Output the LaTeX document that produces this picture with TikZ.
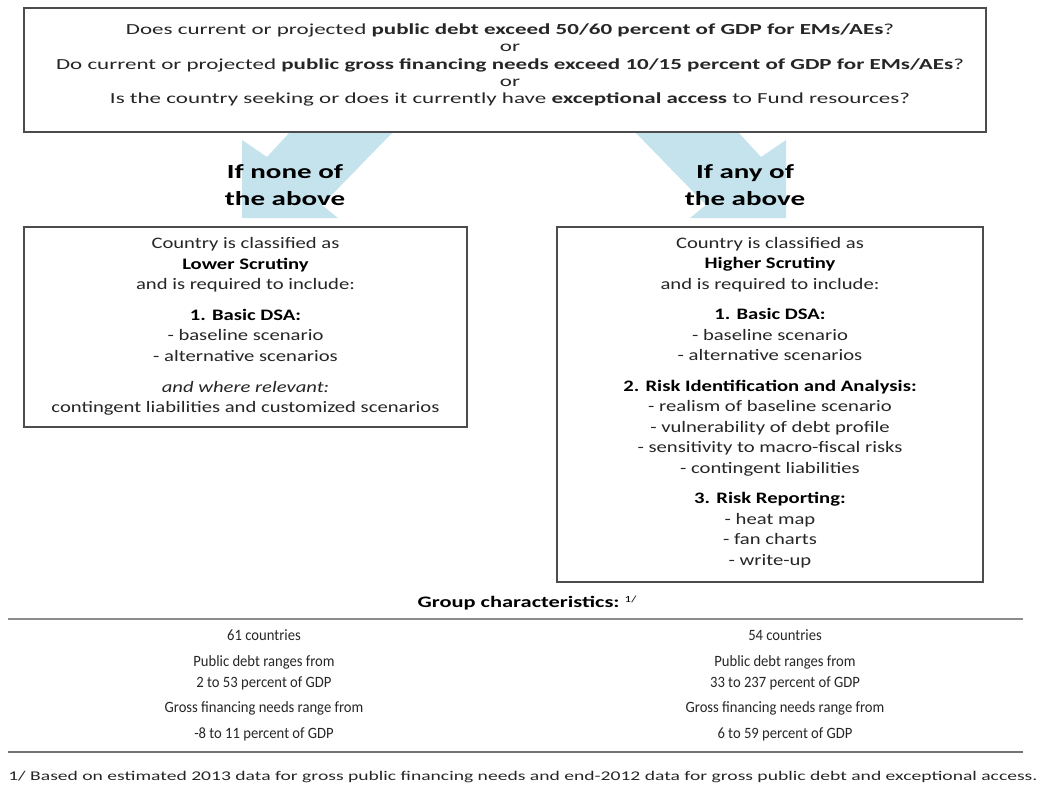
\documentclass[tikz,border=0pt]{standalone}
\usepackage{fontspec}
\setmainfont{Carlito}
\newfontfamily\ftop[FakeStretch=1.50]{Carlito}
\newfontfamily\fif[FakeStretch=1.45]{Carlito}
\newfontfamily\fbx[FakeStretch=1.29]{Carlito}
\newfontfamily\ftab[FakeStretch=0.93]{Carlito}
\newfontfamily\fgrp[FakeStretch=1.4]{Carlito}
\newfontfamily\fnote[FakeStretch=1.47]{Carlito}
\usetikzlibrary{shadows}
\definecolor{arrowblue}{RGB}{197,227,236}
\begin{document}
\begin{tikzpicture}[x=0.75pt,y=-0.75pt,
  box/.style={draw=black!70, line width=0.9pt, fill=white,
    drop shadow={shadow xshift=1pt,shadow yshift=-1pt,opacity=0.45,fill=black}},
  blockarrow/.style={fill=arrowblue, draw=none},
  txt/.style={align=center, inner sep=0pt, text=black!85},
  toptxt/.style={txt, font=\ftop\fontsize{11.5}{13.1}\selectfont},
  iftxt/.style={txt, text=black, font=\fif\bfseries\fontsize{15}{20.25}\selectfont},
  boxtxt/.style={txt, font=\fbx\fontsize{12}{15.4}\selectfont},
  tabtxt/.style={txt, font=\ftab\fontsize{11.8}{13}\selectfont},
  grptxt/.style={txt, text=black, font=\fgrp\fontsize{12}{14}\selectfont},
  notetxt/.style={txt, anchor=west, font=\fnote\fontsize{10}{12}\selectfont},
  rulethick/.style={draw=black!45, line width=2.2pt},
  rulethin/.style={draw=black!55, line width=1pt}
]
\useasboundingbox (0,0) rectangle (1048,785);

% block arrows
\fill[blockarrow] (242,218) -- (242,140) -- (267,157) -- (290,132) -- (393,132)
  -- (322,205) -- (338,218) -- cycle;
\fill[blockarrow] (786,218) -- (786,140) -- (761,157) -- (738,132) -- (635,132)
  -- (706,205) -- (690,218) -- cycle;

% boxes
\node[box, minimum width=721.5pt, minimum height=93pt] (top) at (505,70) {};
\node[box, minimum width=332.25pt, minimum height=150pt] (low) at (245.5,327) {};
\node[box, minimum width=319.5pt, minimum height=266.25pt] (high) at (770,404.5) {};

\node[toptxt] (toptext) at (510,65) {Does current or projected \textbf{public debt exceed 50/60 percent of GDP for EMs/AEs}?\\
or\\
Do current or projected \textbf{public gross financing needs exceed 10/15 percent of GDP for EMs/AEs}?\\
or\\
Is the country seeking or does it currently have \textbf{exceptional access} to Fund resources?};

\node[iftxt] (none) at (285,185.5) {If none of\\the above};
\node[iftxt] (any) at (745,185.5) {If any of\\the above};

\node[boxtxt] (lowtext) at (245.5,326.5) {Country is classified as\\
\textbf{\color{black}Lower Scrutiny}\\
and is required to include:\\[7.5pt]
\textbf{\color{black}1. Basic DSA:}\\
- baseline scenario\\
- alternative scenarios\\[7.5pt]
\textit{and where relevant:}\\
contingent liabilities and customized scenarios};

\node[boxtxt] (hightext) at (770,402.5) {Country is classified as\\
\textbf{\color{black}Higher Scrutiny}\\
and is required to include:\\[7.5pt]
\textbf{\color{black}1. Basic DSA:}\\
- baseline scenario\\
- alternative scenarios\\[7.5pt]
\textbf{\color{black}2. Risk Identification and Analysis:}\\
- realism of baseline scenario\\
- vulnerability of debt profile\\
- sensitivity to macro-fiscal risks\\
- contingent liabilities\\[7.5pt]
\textbf{\color{black}3. Risk Reporting:}\\
- heat map\\
- fan charts\\
- write-up};

% group characteristics
\node[grptxt] (group) at (527,603) {\textbf{Group characteristics:}~\raisebox{0.7ex}{\fontsize{7}{8}\selectfont 1/}};
\coordinate (r1a) at (8,619);
\coordinate (r1b) at (1023,619);
\draw[rulethick] (r1a) -- (r1b);

\node[tabtxt] (c1) at (264,635) {61 countries};
\node[tabtxt] (c2) at (264,662) {Public debt ranges from};
\node[tabtxt] (c3) at (264,683) {2 to 53 percent of GDP};
\node[tabtxt] (c4) at (264,708) {Gross financing needs range from};
\node[tabtxt] (c5) at (264,734) {-8 to 11 percent of GDP};

\node[tabtxt] (d1) at (785,635) {54 countries};
\node[tabtxt] (d2) at (785,662) {Public debt ranges from};
\node[tabtxt] (d3) at (785,683) {33 to 237 percent of GDP};
\node[tabtxt] (d4) at (785,708) {Gross financing needs range from};
\node[tabtxt] (d5) at (785,734) {6 to 59 percent of GDP};

\coordinate (r2a) at (8,752);
\coordinate (r2b) at (1023,752);
\draw[rulethin] (r2a) -- (r2b);

\node[notetxt] (note) at (8,777) {1/ Based on estimated 2013 data for gross public financing needs and end-2012 data for gross public debt and exceptional access.};
\end{tikzpicture}
\end{document}
